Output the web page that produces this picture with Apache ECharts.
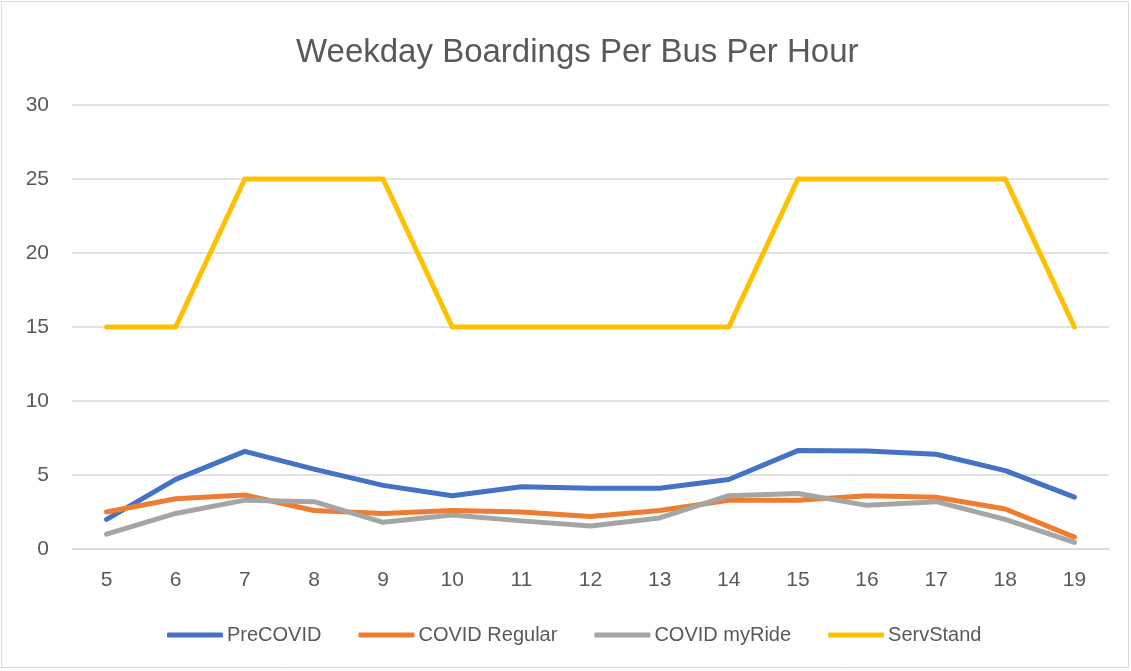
<!DOCTYPE html>
<html><head><meta charset="utf-8">
<script src="https://cdn.jsdelivr.net/npm/echarts@6/dist/echarts.min.js"></script>
<style>html,body{margin:0;padding:0;background:#fff}#c{width:1131px;height:671px}</style>
</head><body><div id="c"></div>
<script>
const hours = ['5','6','7','8','9','10','11','12','13','14','15','16','17','18','19'];
const preCovid = [2.0, 4.7, 6.6, 5.4, 4.3, 3.6, 4.2, 4.1, 4.1, 4.7, 6.65, 6.62, 6.4, 5.3, 3.5];
const covidRegular = [2.5, 3.4, 3.65, 2.6, 2.4, 2.6, 2.5, 2.2, 2.6, 3.3, 3.3, 3.6, 3.5, 2.7, 0.8];
const covidMyRide = [1.0, 2.4, 3.3, 3.2, 1.8, 2.3, 1.9, 1.55, 2.1, 3.6, 3.75, 2.95, 3.2, 2.0, 0.45];
const servStand = [15, 15, 25, 25, 25, 15, 15, 15, 15, 15, 25, 25, 25, 25, 15];
const seriesNames = ['PreCOVID', 'COVID Regular', 'COVID myRide', 'ServStand'];
const colors = ['#4472C4', '#ED7D31', '#A5A5A5', '#FFC000'];
const font = 'Liberation Sans, Arial, sans-serif';
const chart = echarts.init(document.getElementById('c'));
const dataSets = [preCovid, covidRegular, covidMyRide, servStand];
chart.setOption({
  animation: false,
  color: colors,
  graphic: [{type:'rect', shape:{x:1.5,y:1.5,width:1127,height:666}, style:{fill:'none', stroke:'#d9d9d9', lineWidth:1}}],
  title: {text: 'Weekday Boardings Per Bus Per Hour', left: 291, top: 31,
    textStyle: {fontFamily: font, fontSize: 33, fontWeight: 'normal', color: '#595959'}},
  grid: {left: 72, right: 22, top: 105, bottom: 122},
  legend: {bottom: 21, left: 162, itemGap: 37, itemWidth: 56, itemHeight: 5, icon: 'roundRect',
    textStyle: {fontFamily: font, fontSize: 20, color: '#595959', padding:[0,0,0,-1]},
    data: seriesNames},
  xAxis: {type: 'category', data: hours, boundaryGap: true,
    axisLine: {show: true, lineStyle: {color: '#d9d9d9', width: 1.5}},
    axisTick: {show: false},
    axisLabel: {fontFamily: font, fontSize: 21, color: '#595959', margin: 21}},
  yAxis: {type: 'value', min: 0, max: 30, interval: 5,
    axisLine: {show: false}, axisTick: {show: false},
    splitLine: {lineStyle: {color: '#d9d9d9', width: 1.5}},
    axisLabel: {fontFamily: font, fontSize: 21, color: '#595959', margin: 23}},
  series: seriesNames.map((n, i) => ({
    name: n, type: 'line', data: dataSets[i], symbol: 'none',
    lineStyle: {width: 5, color: colors[i], cap: 'round', join: 'round'},
    itemStyle: {color: colors[i]}
  }))
});
</script></body></html>
